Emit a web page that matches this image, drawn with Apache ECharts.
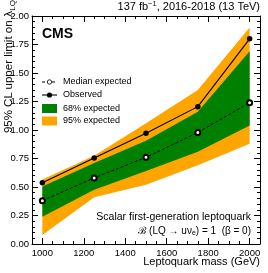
<!DOCTYPE html>
<html>
<head>
<meta charset="utf-8">
<script src="https://cdn.jsdelivr.net/npm/echarts@6/dist/echarts.min.js"></script>
<style>
html,body{margin:0;padding:0;background:#fff;overflow:hidden;}
#wrap{position:relative;width:268px;height:273px;}
#c{position:absolute;left:0;top:0;width:268px;height:273px;}
#ytitle{position:absolute;left:-182px;top:-6px;width:190px;height:12px;line-height:12px;text-align:right;white-space:nowrap;
  font-family:"Liberation Sans", Arial, Helvetica, sans-serif;font-size:11.5px;color:#000;
  transform-origin:100% 50%;transform:rotate(-90deg);z-index:10;}
#ytitle .lam{font-family:"DejaVu Sans", sans-serif;font-size:11px;}
#ytitle .sub{font-size:8px;position:relative;top:2.5px;}
</style>
</head>
<body>
<div id="wrap">
<div id="c"></div>
<div id="ytitle">95% CL upper limit on <span class="lam">&#955;</span><span class="sub">LQ</span></div>
</div>
<script>
const masses = [1000, 1250, 1500, 1750, 2000];
const observed = [0.538, 0.755, 0.972, 1.205, 1.80];
const expected = [0.38, 0.58, 0.76, 0.978, 1.24];
const band68Low = [0.24, 0.475, 0.64, 0.81, 1.04];
const band68High = [0.505, 0.71, 0.905, 1.16, 1.69];
const band95Low = [0.08, 0.41, 0.52, 0.69, 0.88];
const band95High = [0.565, 0.775, 1.06, 1.35, 1.90];
const xTickLabels = [1000, 1200, 1400, 1600, 1800, 2000];
const yTickLabels = [0, 0.25, 0.5, 0.75, 1.0, 1.25, 1.5, 1.75, 2.0];

const FONT = '"Liberation Sans", Arial, Helvetica, sans-serif';
const GREEN = '#008000';
const ORANGE = '#ffa500';

function bandSeries(low, high, color) {
  return {
    type: 'custom',
    xAxisIndex: 0, yAxisIndex: 0,
    silent: true,
    data: [0],
    renderItem: function (params, api) {
      const pts = [];
      for (let i = 0; i < masses.length; i++) pts.push(api.coord([masses[i], high[i]]));
      for (let i = masses.length - 1; i >= 0; i--) pts.push(api.coord([masses[i], low[i]]));
      return { type: 'polygon', shape: { points: pts }, style: { fill: color, stroke: null } };
    }
  };
}

const chart = echarts.init(document.getElementById('c'), null, { renderer: 'canvas' });
const axisLine = { show: true, lineStyle: { color: '#000', width: 1 } };
const baseX = { type: 'value', min: 950, max: 2050, splitLine: { show: false } };
const baseY = { type: 'value', min: 0, max: 2, interval: 0.25, splitLine: { show: false } };

chart.setOption({
  animation: false,
  textStyle: { fontFamily: FONT },
  grid: { left: 32, right: 8, top: 16, bottom: 29, containLabel: false },
  xAxis: [
    Object.assign({}, baseX, {
      position: 'bottom', axisLine: axisLine,
      axisTick: { inside: true, length: 6, customValues: xTickLabels, lineStyle: { color: '#000' } },
      axisLabel: { customValues: xTickLabels, fontSize: 9.5, color: '#000', margin: 4, fontFamily: FONT,
        formatter: v => String(v) }
    }),
    Object.assign({}, baseX, {
      position: 'bottom', interval: 50, axisLine: { show: false },
      axisTick: { inside: true, length: 3, lineStyle: { color: '#000' } }, axisLabel: { show: false }
    }),
    Object.assign({}, baseX, {
      position: 'top', axisLine: axisLine,
      axisTick: { inside: true, length: 6, customValues: xTickLabels, lineStyle: { color: '#000' } },
      axisLabel: { show: false }
    }),
    Object.assign({}, baseX, {
      position: 'top', interval: 50, axisLine: { show: false },
      axisTick: { inside: true, length: 3, lineStyle: { color: '#000' } }, axisLabel: { show: false }
    })
  ],
  yAxis: [
    Object.assign({}, baseY, {
      position: 'left', axisLine: axisLine,
      axisTick: { inside: true, length: 6, lineStyle: { color: '#000' } },
      minorTick: { show: true, splitNumber: 5, length: 3, lineStyle: { color: '#000' } },
      axisLabel: { show: true, customValues: yTickLabels, fontSize: 9.5, color: '#000', margin: 3, fontFamily: FONT,
        formatter: v => Number(v).toFixed(2) }
    }),
    Object.assign({}, baseY, {
      position: 'right', axisLine: axisLine,
      axisTick: { inside: true, length: 6, lineStyle: { color: '#000' } },
      minorTick: { show: true, splitNumber: 5, length: 3, lineStyle: { color: '#000' } },
      axisLabel: { show: false }
    })
  ],
  series: [
    bandSeries(band95Low, band95High, ORANGE),
    bandSeries(band68Low, band68High, GREEN),
    {
      type: 'line', xAxisIndex: 0, yAxisIndex: 0,
      data: masses.map((m, i) => [m, expected[i]]),
      lineStyle: { color: '#000', width: 1, type: [3, 2] },
      symbol: 'emptyCircle', symbolSize: 5,
      itemStyle: { color: '#000', borderColor: '#000', borderWidth: 0.8 },
      z: 5
    },
    {
      type: 'line', xAxisIndex: 0, yAxisIndex: 0,
      data: masses.map((m, i) => [m, observed[i]]),
      lineStyle: { color: '#000', width: 1.1 },
      symbol: 'circle', symbolSize: 5.5,
      itemStyle: { color: '#000' },
      z: 6
    }
  ],
  graphic: [
    { type: 'text', x: 260, y: 7, style: { text: '137 fb{sup|−1}, 2016-2018 (13 TeV)', align: 'right', verticalAlign: 'middle',
      font: '11px ' + FONT, fill: '#000', rich: { sup: { fontSize: 7.5, verticalAlign: 'top', padding: [0, 0, 6, 0], fontFamily: FONT } } } },
    { type: 'text', x: 42, y: 34, style: { text: 'CMS', align: 'left', verticalAlign: 'middle', font: 'bold 14px ' + FONT, fill: '#000' } },
    { type: 'text', x: 260, y: 262, style: { text: 'Leptoquark mass (GeV)', align: 'right', verticalAlign: 'middle', font: '11px ' + FONT, fill: '#000' } },
    { type: 'text', x: 251, y: 217, style: { text: 'Scalar first-generation leptoquark', align: 'right', verticalAlign: 'middle', font: '10.5px ' + FONT, fill: '#000' } },
    { type: 'text', x: 251, y: 231, style: { text: 'ℬ (LQ → uν{sub|e}) = 1  (β = 0)', align: 'right', verticalAlign: 'middle',
      font: '10px ' + FONT, fill: '#000', rich: { sub: { fontSize: 7, padding: [4, 0, 0, 0], fontFamily: FONT } } } },
    // legend
    { type: 'line', shape: { x1: 42, y1: 82, x2: 57, y2: 82 }, style: { stroke: '#000', lineWidth: 1, lineDash: [3, 2] } },
    { type: 'circle', shape: { cx: 49.5, cy: 82, r: 2.2 }, style: { fill: '#fff', stroke: '#000', lineWidth: 0.8 } },
    { type: 'text', x: 63, y: 82, style: { text: 'Median expected', verticalAlign: 'middle', font: '9px ' + FONT, fill: '#000' } },
    { type: 'line', shape: { x1: 42, y1: 95, x2: 57, y2: 95 }, style: { stroke: '#000', lineWidth: 1.1 } },
    { type: 'circle', shape: { cx: 49.5, cy: 95, r: 2.6 }, style: { fill: '#000' } },
    { type: 'text', x: 63, y: 95, style: { text: 'Observed', verticalAlign: 'middle', font: '9px ' + FONT, fill: '#000' } },
    { type: 'rect', shape: { x: 42, y: 104, width: 15, height: 9 }, style: { fill: GREEN } },
    { type: 'text', x: 63, y: 108.5, style: { text: '68% expected', verticalAlign: 'middle', font: '9px ' + FONT, fill: '#000' } },
    { type: 'rect', shape: { x: 42, y: 116.5, width: 15, height: 9 }, style: { fill: ORANGE } },
    { type: 'text', x: 63, y: 121, style: { text: '95% expected', verticalAlign: 'middle', font: '9px ' + FONT, fill: '#000' } }
  ]
});
</script>
</body>
</html>
